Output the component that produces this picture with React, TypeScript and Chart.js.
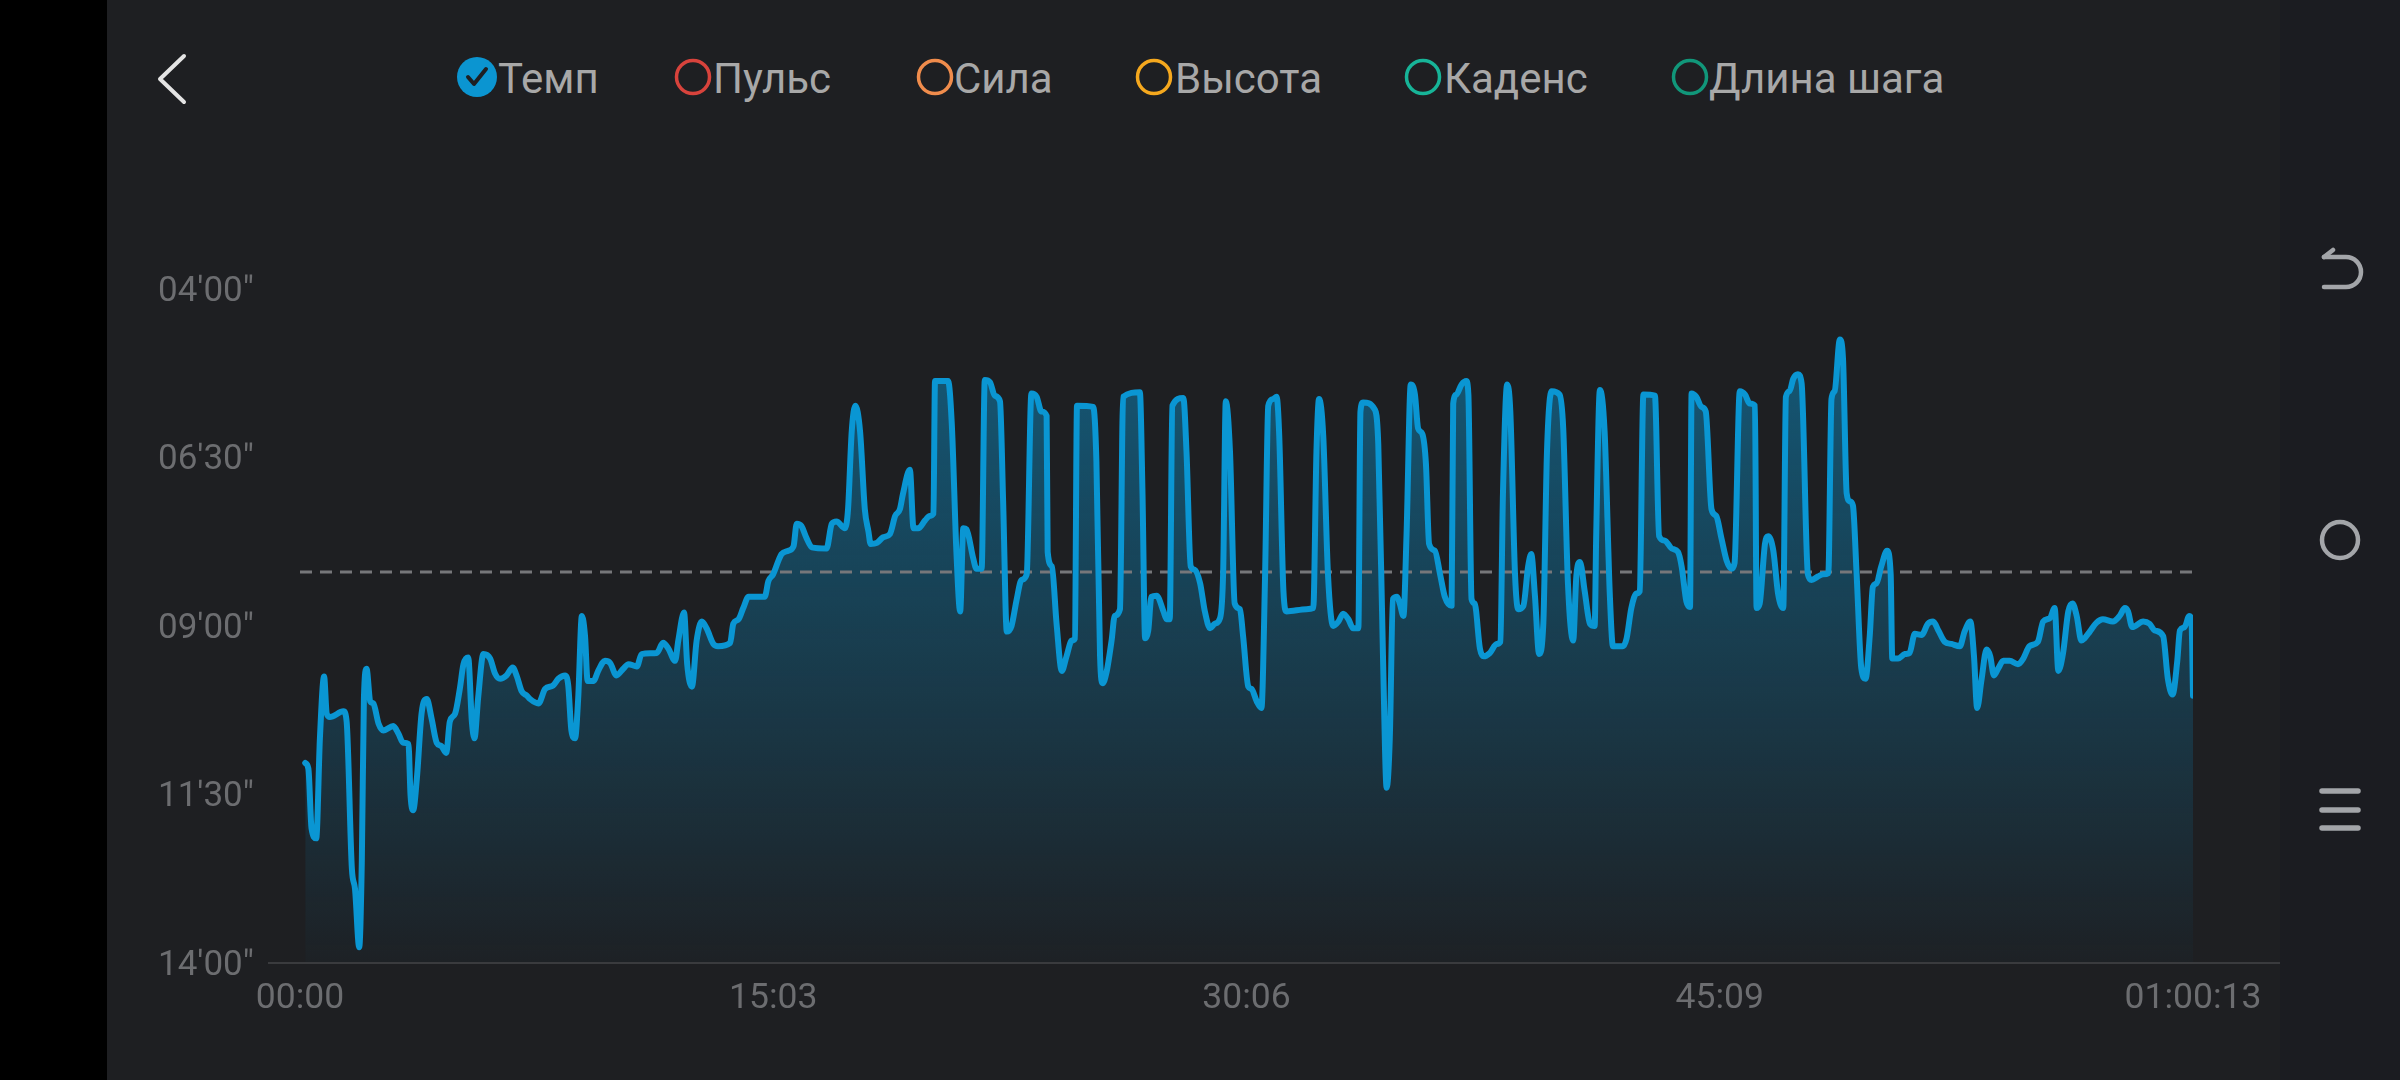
import React, { useEffect, useRef } from "react";
import { Chart, registerables } from "chart.js";

Chart.register(...registerables);

// ---- data (seconds) ----
const DURATION = 3613;
const AVG_PACE = 492;
const Y_MIN = 240;
const Y_MAX = 840;
const Y_TICKS = [240, 390, 540, 690, 840];
const X_TICK_FRACTIONS = [0, 0.25, 0.5, 0.75, 1];

const TIMES = [
  10, 16, 22, 31, 38, 46, 51, 57, 83, 89, 99, 105, 113, 118, 122, 127, 134, 140, 150, 159,
  178, 188, 197, 207, 211, 216, 223, 232, 242, 251, 261, 270, 279, 286, 296, 305, 312, 321, 328, 333,
  340, 350, 363, 372, 382, 394, 406, 414, 423, 433, 439, 455, 468, 483, 493, 506, 512, 518, 525, 531,
  538, 544, 549, 560, 569, 582, 592, 604, 617, 627, 643, 652, 681, 693, 703, 716, 722, 733,
  739, 748, 757, 767, 776, 789, 798, 821, 827, 837, 846, 856, 887, 894, 903, 913, 919, 932, 942, 948,
  957, 967, 977, 1005, 1015, 1024, 1040, 1046, 1053, 1060, 1069, 1078, 1085, 1089, 1101, 1113, 1126, 1136, 1145, 1151,
  1164, 1171, 1180, 1193, 1202, 1209, 1212, 1237, 1244, 1253, 1260, 1266, 1272, 1285, 1291, 1301, 1307, 1317, 1326, 1336,
  1342, 1349, 1358, 1368, 1377, 1387, 1396, 1406, 1415, 1425, 1427, 1435, 1444, 1454, 1463, 1473, 1479, 1483,
  1514, 1520, 1527, 1532, 1539, 1549, 1555, 1565, 1571, 1603, 1608, 1613, 1619, 1625, 1635, 1648, 1654, 1660, 1665, 1686,
  1692, 1700, 1708, 1718, 1727, 1737, 1746, 1756, 1762, 1767, 1775, 1784, 1794, 1800, 1810, 1816, 1826, 1835, 1842, 1848,
  1857, 1864, 1869, 1877, 1883, 1921, 1934, 1940, 1945, 1953, 1962, 1972, 1982, 1991, 2001, 2010, 2020, 2024, 2029, 2051,
  2058, 2067, 2074, 2080, 2086, 2094, 2099, 2106, 2112, 2120, 2128, 2134, 2142, 2149, 2155, 2166, 2176, 2185, 2198, 2201,
  2207, 2217, 2226,
  2230, 2236, 2242, 2252, 2259, 2271, 2284, 2291, 2296, 2304, 2310, 2319, 2325, 2335, 2344, 2350, 2357, 2365, 2373, 2380,
  2389, 2404, 2411, 2420, 2430, 2436, 2443, 2452, 2462, 2471, 2474, 2481, 2490, 2500, 2506, 2525, 2532, 2541, 2551, 2557,
  2564, 2586, 2594, 2605, 2618, 2630, 2637, 2646, 2653, 2656, 2665, 2675, 2683, 2694, 2703, 2713, 2723, 2732, 2738, 2748,
  2758, 2767, 2777, 2780, 2786, 2796, 2802, 2812, 2821, 2831, 2836, 2843, 2850, 2859, 2866, 2878, 2885, 2897, 2907, 2917,
  2923, 2929, 2939, 2945, 2952, 2958,
  2964, 2971, 2980, 2988, 2996, 3002, 3009, 3018, 3029, 3036, 3039, 3050, 3063, 3072, 3082, 3095, 3107, 3117, 3127, 3139,
  3152, 3168, 3177, 3188, 3195, 3201, 3209, 3219, 3226, 3233, 3241, 3251, 3263, 3279, 3289, 3301, 3317, 3327, 3340, 3349,
  3356, 3365, 3375, 3383, 3391, 3400, 3406, 3416, 3429, 3441, 3460, 3473, 3483, 3489, 3497, 3518, 3530, 3540, 3556, 3565,
  3574, 3583, 3588, 3597, 3606, 3610, 3613,
];

const PACES = [
  662, 667, 720, 729, 640, 585, 618, 621, 616, 625, 756, 774, 826, 749, 604, 578, 607, 609, 627, 633,
  629, 636, 644, 645, 691, 704, 676, 618, 605, 622, 644, 647, 653, 625, 618, 596, 574, 568, 625, 640,
  604, 565, 569, 582, 587, 584, 577, 585, 598, 602, 605, 609, 596, 593, 587, 584, 593, 633, 640, 604,
  531, 549, 589, 589, 580, 571, 573, 584, 578, 574, 576, 565, 564, 555, 560, 571, 553, 528,
  574, 594, 553, 536, 542, 556, 558, 555, 538, 534, 524, 514, 514, 500, 494, 482, 476, 473, 469, 449,
  451, 462, 470, 471, 449, 447, 453, 436, 367, 344, 367, 436, 456, 467, 466, 461, 458, 442, 436, 422,
  401, 453, 453, 446, 442, 440, 322, 322, 360, 476, 527, 453, 454, 480, 489, 489, 321, 323, 335, 340,
  429, 545, 540, 516, 499, 494, 333, 336, 349, 353, 474, 487, 538, 580, 567, 553, 551, 344,
  345, 393, 567, 591, 582, 553, 531, 525, 336, 332, 422, 551, 544, 514, 513, 527, 534, 534, 344, 337,
  385, 487, 490, 502, 527, 542, 538, 533, 491, 340, 385, 520, 525, 549, 594, 596, 607, 613, 494, 344,
  338, 336, 371, 509, 527, 525, 524, 385, 338, 371, 494, 540, 536, 529, 534, 542, 542, 349, 341, 347,
  378, 567, 684, 640, 516, 514, 520, 531, 458, 325, 334, 364, 369, 396, 467, 473, 494, 514, 522, 342,
  334, 325, 322,
  334, 516, 520, 560, 567, 564, 556, 554, 422, 325, 349, 494, 525, 522, 487, 476, 513, 565, 538, 385,
  331, 334, 364, 502, 553, 496, 483, 509, 538, 540, 458, 330, 367, 513, 558, 558, 551, 524, 511, 509,
  334, 335, 460, 464, 471, 474, 487, 518, 523, 333, 336, 345, 349, 436, 442, 462, 482, 489, 484, 331,
  334, 342, 344, 524, 520, 467, 460, 473, 511, 524, 336, 331, 320, 316, 324, 494, 499, 496, 494, 493,
  338, 331, 285, 302, 422, 429,
  433, 494, 578, 587, 549, 505, 502, 487, 473, 494, 569, 569, 565, 564, 547, 548, 538, 536, 544, 554,
  556, 558, 545, 536, 567, 613, 589, 561, 567, 584, 578, 571, 571, 574, 569, 558, 554, 536, 533, 524,
  580, 564, 527, 520, 531, 553, 551, 545, 537, 534, 536, 531, 524, 527, 541, 536, 538, 544, 549, 587,
  601, 571, 544, 541, 531, 534, 602,
];

const LEGEND_LABELS = ["Темп", "Пульс", "Сила", "Высота", "Каденс", "Длина шага"];
const LEGEND_COLORS = ["#0b95d1", "#d8433c", "#f08c4c", "#f5a81e", "#17b498", "#11977a"];
const LEGEND_CHECKED = [true, false, false, false, false, false];

// ---- styles ----
const BG = "#1e1f22";
const NAV_BG = "#1b1c21";
const LINE_COLOR = "#0a96d3";
const TICK_COLOR = "#6c6d70";
const AXIS_COLOR = "#3a3b3e";
const AVG_COLOR = "#76777a";

const CANVAS_LEFT = 107;
const CANVAS_TOP = 150;
const CANVAS_W = 2173;
const CANVAS_H = 930;

const pad2 = (n: number) => String(n).padStart(2, "0");
const fmtPace = (s: number) => `${pad2(Math.floor(s / 60))}'${pad2(Math.round(s % 60))}"`;
const fmtTime = (v: number) => {
  const s = Math.floor(v);
  const h = Math.floor(s / 3600);
  const m = Math.floor((s % 3600) / 60);
  const sec = s % 60;
  return h > 0 ? `${pad2(h)}:${pad2(m)}:${pad2(sec)}` : `${pad2(m)}:${pad2(sec)}`;
};

const baselinePlugin = {
  id: "baseline",
  beforeDatasetsDraw(chart: any) {
    const { ctx, chartArea } = chart;
    ctx.save();
    ctx.strokeStyle = AXIS_COLOR;
    ctx.lineWidth = 2;
    ctx.beginPath();
    ctx.moveTo(268 - CANVAS_LEFT, chartArea.bottom);
    ctx.lineTo(chart.width, chartArea.bottom);
    ctx.stroke();
    ctx.restore();
  },
};

const LEGEND_POS = [
  { cx: 477, tx: 498 },
  { cx: 693, tx: 713 },
  { cx: 935, tx: 954 },
  { cx: 1154, tx: 1175 },
  { cx: 1423, tx: 1444 },
  { cx: 1690, tx: 1709 },
];

export default function App() {
  const ref = useRef<HTMLCanvasElement>(null);

  useEffect(() => {
    const canvas = ref.current;
    if (!canvas) return;
    const chart = new Chart(canvas, {
      type: "line",
      data: {
        datasets: [
          {
            data: TIMES.map((t, i) => ({ x: t, y: PACES[i] })),
            borderColor: LINE_COLOR,
            borderWidth: 6,
            pointRadius: 0,
            cubicInterpolationMode: "monotone",
            borderCapStyle: "round",
            borderJoinStyle: "round",
            fill: { target: { value: Y_MAX } },
            backgroundColor: (c: any) => {
              const area = c.chart.chartArea;
              if (!area) return "transparent";
              const g = c.chart.ctx.createLinearGradient(0, area.top, 0, area.bottom);
              g.addColorStop(0, "rgba(10,150,210,0.52)");
              g.addColorStop(0.5, "rgba(10,150,210,0.27)");
              g.addColorStop(1, "rgba(10,150,210,0.02)");
              return g;
            },
            order: 1,
          } as any,
          {
            data: [
              { x: 0, y: AVG_PACE },
              { x: DURATION, y: AVG_PACE },
            ],
            borderColor: AVG_COLOR,
            borderWidth: 3,
            borderDash: [12, 8],
            pointRadius: 0,
            fill: false,
            order: 2,
          } as any,
        ],
      },
      options: {
        animation: false,
        responsive: false,
        devicePixelRatio: 1,
        layout: { padding: { left: 0, right: 87, top: 139, bottom: 0 } },
        plugins: {
          legend: { display: false },
          tooltip: { enabled: false },
          filler: { drawTime: "beforeDatasetsDraw" },
        } as any,
        scales: {
          x: {
            type: "linear",
            min: 0,
            max: DURATION,
            afterBuildTicks: (s: any) => {
              s.ticks = X_TICK_FRACTIONS.map((f) => ({ value: f * DURATION }));
            },
            afterFit: (s: any) => {
              s.height = 117;
            },
            ticks: {
              autoSkip: false,
              maxRotation: 0,
              padding: 15,
              color: TICK_COLOR,
              font: { family: "Roboto", size: 35.5 },
              callback: (v: any) => fmtTime(Number(v)),
            },
            grid: { display: false, drawTicks: false },
            border: { display: false },
          },
          y: {
            type: "linear",
            reverse: true,
            min: Y_MIN,
            max: Y_MAX,
            afterBuildTicks: (s: any) => {
              s.ticks = Y_TICKS.map((v) => ({ value: v }));
            },
            afterFit: (s: any) => {
              s.width = 300 - CANVAS_LEFT;
            },
            ticks: {
              padding: 46,
              labelOffset: 3,
              color: TICK_COLOR,
              font: { family: "Roboto", size: 35 },
              callback: (v: any) => fmtPace(Number(v)),
            },
            grid: { display: false, drawTicks: false },
            border: { display: false },
          },
        },
      } as any,
      plugins: [baselinePlugin],
    });
    return () => chart.destroy();
  }, []);

  return (
    <div
      style={{
        position: "fixed",
        left: 0,
        top: 0,
        width: 2400,
        height: 1080,
        background: BG,
        overflow: "hidden",
        fontFamily: "Roboto, sans-serif",
      }}
    >
      <div style={{ position: "absolute", left: 0, top: 0, width: 107, height: 1080, background: "#000" }} />
      <div style={{ position: "absolute", left: 2280, top: 0, width: 120, height: 1080, background: NAV_BG }} />

      <svg
        width={2400}
        height={1080}
        style={{ position: "absolute", left: 0, top: 0, pointerEvents: "none" }}
      >
        {/* back chevron */}
        <polyline
          points="184,56 160,79 184,102"
          fill="none"
          stroke="#e4e4e4"
          strokeWidth={4}
          strokeLinecap="round"
          strokeLinejoin="round"
        />
        {/* nav: back */}
        <g fill="none" stroke="#a3a5a9" strokeWidth={4.5} strokeLinecap="round" strokeLinejoin="round">
          <path d="M2324 257 L2346 257 A15 15 0 0 1 2346 287 L2324 287" />
          <path d="M2324 257 L2333 250" />
          <circle cx={2340} cy={540} r={18} />
        </g>
        <g stroke="#a3a5a9" strokeWidth={5.5} strokeLinecap="round">
          <line x1={2322} y1={791} x2={2358} y2={791} />
          <line x1={2322} y1={810} x2={2358} y2={810} />
          <line x1={2322} y1={828} x2={2358} y2={828} />
        </g>
        {/* legend markers */}
        {LEGEND_LABELS.map((l, i) =>
          LEGEND_CHECKED[i] ? (
            <g key={l}>
              <circle cx={LEGEND_POS[i].cx} cy={77} r={20} fill={LEGEND_COLORS[i]} />
              <polyline
                points={`${LEGEND_POS[i].cx - 9},${77} ${LEGEND_POS[i].cx - 3},${84} ${LEGEND_POS[i].cx + 9},${69}`}
                fill="none"
                stroke="#1e1f22"
                strokeWidth={4}
                strokeLinecap="round"
                strokeLinejoin="round"
              />
            </g>
          ) : (
            <circle
              key={l}
              cx={LEGEND_POS[i].cx}
              cy={77}
              r={16.5}
              fill="none"
              stroke={LEGEND_COLORS[i]}
              strokeWidth={3.5}
            />
          )
        )}
      </svg>

      {LEGEND_LABELS.map((l, i) => (
        <div
          key={l}
          style={{
            position: "absolute",
            left: LEGEND_POS[i].tx,
            top: 79,
            height: 0,
            display: "flex",
            alignItems: "center",
            whiteSpace: "nowrap",
            color: "#a8a8a8",
            fontSize: 42,
            lineHeight: 1,
          }}
        >
          {l}
        </div>
      ))}

      <canvas
        ref={ref}
        width={CANVAS_W}
        height={CANVAS_H}
        style={{ position: "absolute", left: CANVAS_LEFT, top: CANVAS_TOP, width: CANVAS_W, height: CANVAS_H }}
      />
    </div>
  );
}
